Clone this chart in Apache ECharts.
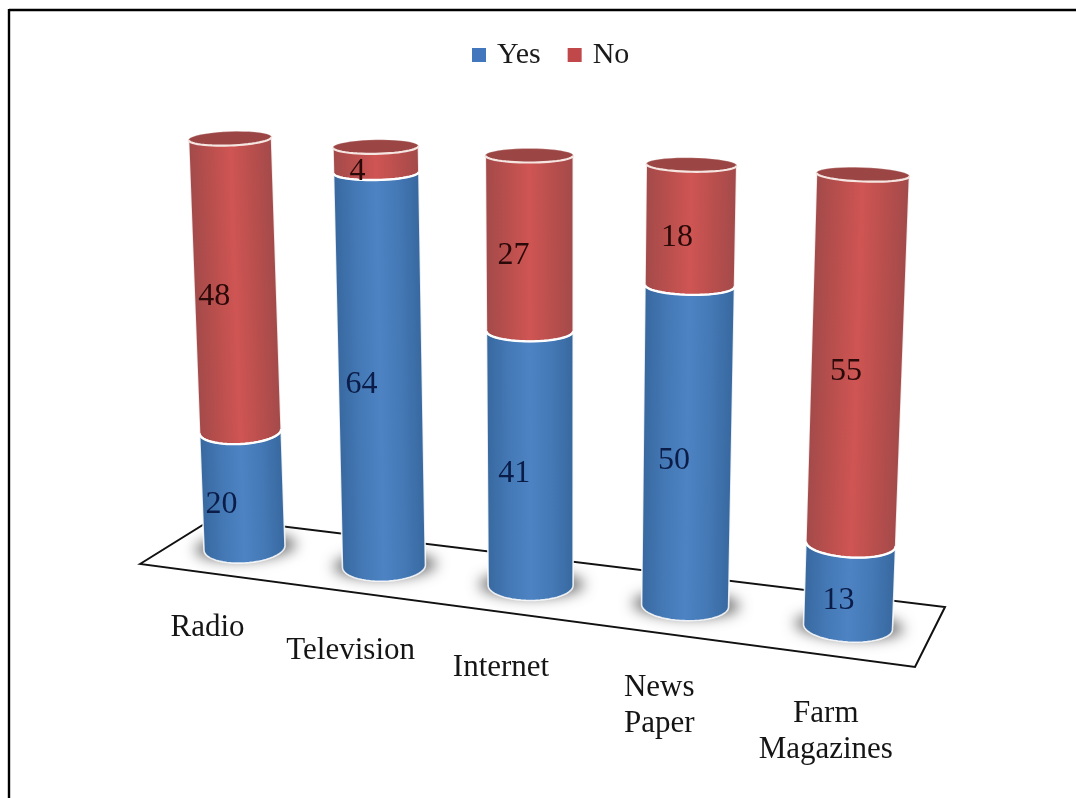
<!DOCTYPE html>
<html>
<head>
<meta charset="utf-8">
<style>html,body{margin:0;padding:0;background:#fff}#chart{width:1076px;height:798px}</style>
<script src="https://cdn.jsdelivr.net/npm/echarts@6/dist/echarts.min.js"></script>
</head>
<body>
<div id="chart"></div>
<script>
// Media use survey: stacked Yes / No counts per channel
const categories = ['Radio', 'Television', 'Internet', 'News\nPaper', 'Farm\nMagazines'];
const yesValues = [20, 64, 41, 50, 13];
const noValues = [48, 4, 27, 18, 55];

const SERIF = '"Liberation Serif", "Times New Roman", serif';
const AXIS_MAX = 68;

// Where the corners of the flat value plane land on the tilted view
const VIEW = { bl: [244.5, 548], br: [848, 627], tr: [863, 174.5], tl: [230, 138.5] };
const GRID = { left: 240, top: 140, width: 610, height: 420 };
// Vertical gap between a cylinder's foot and its category name
const NAME_DROP = [62, 67, 64, 64, 69];
// The shadow caster sits this far off-canvas so that only its blur is painted
const SHADOW_SHIFT = 3000;

// Square-to-quad projective mapping
function makeProjection(q) {
  const [x0, y0] = q.bl, [x1, y1] = q.br, [x2, y2] = q.tr, [x3, y3] = q.tl;
  const dx1 = x1 - x2, dx2 = x3 - x2, sx = x0 - x1 + x2 - x3;
  const dy1 = y1 - y2, dy2 = y3 - y2, sy = y0 - y1 + y2 - y3;
  const det = dx1 * dy2 - dx2 * dy1;
  const g = (sx * dy2 - dx2 * sy) / det, h = (dx1 * sy - sx * dy1) / det;
  const a = x1 - x0 + g * x1, b = x3 - x0 + h * x3, d = y1 - y0 + g * y1, e = y3 - y0 + h * y3;
  return (u, v) => {
    const w = g * u + h * v + 1;
    return [(a * u + b * v + x0) / w, (d * u + e * v + y0) / w];
  };
}
const project = makeProjection(VIEW);

// Project a (category, value) pair after the axes have turned it into grid pixels
function viewPoint(api, i, value) {
  const p = api.coord([i, value]);
  return project((p[0] - GRID.left) / GRID.width, (GRID.top + GRID.height - p[1]) / GRID.height);
}

// Cross-section ellipse of a cylinder at a given value
function section(api, i, value) {
  const t = value / AXIS_MAX;
  return {
    c: viewPoint(api, i, value),
    a: 40.5 + i + t * (1 + 0.25 * i),
    b: 15 - 8 * t,
    tilt: (i - 2) * 0.028 * (1 - 0.35 * t)
  };
}
function arc(s, from, to, steps) {
  const pts = [];
  for (let k = 0; k <= steps; k++) {
    const t = from + (to - from) * k / steps;
    const x = s.a * Math.cos(t), y = s.b * Math.sin(t);
    pts.push([s.c[0] + x, s.c[1] + y + x * s.tilt]);
  }
  return pts;
}

function bodyFill(low, high, stops) {
  const mx = (low.c[0] + high.c[0]) / 2, my = (low.c[1] + high.c[1]) / 2;
  const ax = high.c[0] - low.c[0], ay = high.c[1] - low.c[1], len = Math.hypot(ax, ay) || 1;
  const nx = -ay / len, ny = ax / len, a = (low.a + high.a) / 2;
  const sign = nx >= 0 ? 1 : -1;
  return new echarts.graphic.LinearGradient(
    mx - sign * a * nx, my - sign * a * ny, mx + sign * a * nx, my + sign * a * ny,
    stops.map((c, k) => ({ offset: k / (stops.length - 1), color: c })), true);
}

const BLUE = ['#38689f', '#4479b6', '#4d83c3', '#4479b6', '#38689f'];
const RED = ['#a34a4a', '#b94f4d', '#cf5553', '#b94f4d', '#a34a4a'];

function cylinderRenderer(kind) {
  return function (params, api) {
    const i = api.value(0);
    const v0 = kind === 'yes' ? 0 : yesValues[i];
    const v1 = v0 + api.value(1);
    const low = section(api, i, v0), high = section(api, i, v1);
    const children = [];

    if (kind === 'yes') {
      // soft contact shadow on the floor, painted from an off-canvas caster
      const shade = { c: [low.c[0] - SHADOW_SHIFT + 1, low.c[1] - 1], a: low.a + 10, b: low.b - 2, tilt: low.tilt };
      children.push({
        type: 'polygon', shape: { points: arc(shade, 0, Math.PI * 2, 40) },
        style: { fill: '#000', shadowBlur: 14, shadowColor: '#6f6f6f', shadowOffsetX: SHADOW_SHIFT }
      });
    }

    // front arc of the lower rim, then back over the far side of the upper rim
    const pts = arc(low, 0, Math.PI, 28).reverse().concat(arc(high, 0, -Math.PI, 28));
    children.push({
      type: 'polygon', shape: { points: pts },
      style: { fill: bodyFill(low, high, kind === 'yes' ? BLUE : RED), stroke: 'rgba(255,255,255,0.85)', lineWidth: 1.6 }
    });
    if (kind === 'no') {
      children.push({
        type: 'polygon', shape: { points: arc(high, 0, Math.PI * 2, 40) },
        style: { fill: '#9b4644', stroke: 'rgba(255,255,255,0.25)', lineWidth: 1 }
      });
      children.push({
        type: 'polyline', shape: { points: arc(high, 0, Math.PI, 28) },
        style: { fill: null, stroke: '#f6e6e2', lineWidth: 2.2 }
      });
      // white seam where the two colours meet
      children.push({
        type: 'polyline', shape: { points: arc(low, 0, Math.PI, 28) },
        style: { fill: null, stroke: '#ffffff', lineWidth: 2.4 }
      });
    }

    // value label, set slightly left of the cylinder axis
    const midY = (low.c[1] + high.c[1]) / 2 + (kind === 'yes' ? 15 : 12);
    const midX = (low.c[0] + high.c[0]) / 2 - 21 + i * 2.5;
    children.push({
      type: 'text',
      style: {
        x: midX, y: midY, text: String(v1 - v0), font: '32px ' + SERIF,
        fill: kind === 'yes' ? '#0b1c48' : '#2a0909', align: 'center', verticalAlign: 'middle'
      }
    });

    if (kind === 'yes') {
      // category name below the floor
      children.push({
        type: 'text',
        style: {
          x: low.c[0] - 37 + i * 3.7, y: low.c[1] + NAME_DROP[i],
          text: categories[i], font: '31px ' + SERIF, lineHeight: 36,
          fill: '#151515', align: 'center', verticalAlign: 'top'
        }
      });
    }
    return { type: 'group', children };
  };
}

const chart = echarts.init(document.getElementById('chart'));
chart.setOption({
  backgroundColor: '#ffffff',
  animation: false,
  grid: GRID,
  xAxis: { type: 'value', min: 0, max: categories.length - 1, show: false },
  yAxis: { type: 'value', min: 0, max: AXIS_MAX, show: false },
  legend: {
    left: 467, top: 35, icon: 'rect', itemWidth: 14, itemHeight: 14, itemGap: 27,
    data: ['Yes', 'No'],
    textStyle: { fontFamily: SERIF, fontSize: 30, color: '#1a1a1a', padding: [0, 0, 0, 6] }
  },
  graphic: [
    // page frame, open to the right and bottom
    { type: 'line', z: -1, shape: { x1: 9, y1: 10, x2: 1076, y2: 10 }, style: { stroke: '#000', lineWidth: 2.4 } },
    { type: 'line', z: -1, shape: { x1: 9, y1: 9, x2: 9, y2: 798 }, style: { stroke: '#000', lineWidth: 2.4 } },
    // floor of the chart
    { type: 'polygon', z: -1, shape: { points: [[140, 564], [214, 518], [945, 607], [915, 667]] },
      style: { fill: '#ffffff', stroke: '#111', lineWidth: 2 } }
  ],
  series: [
    { name: 'Yes', type: 'custom', z: 3, data: yesValues.map((v, i) => [i, v]),
      encode: { x: 0, y: 1 }, itemStyle: { color: '#4277bd' }, clip: false,
      renderItem: cylinderRenderer('yes') },
    { name: 'No', type: 'custom', z: 4, data: noValues.map((v, i) => [i, v]),
      encode: { x: 0, y: 1 }, itemStyle: { color: '#c0474a' }, clip: false,
      renderItem: cylinderRenderer('no') }
  ]
});
</script>
</body>
</html>
